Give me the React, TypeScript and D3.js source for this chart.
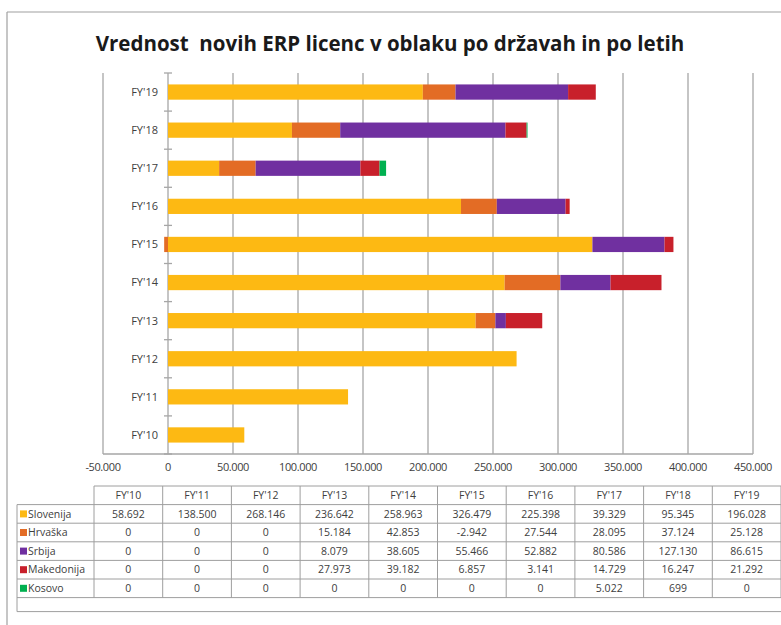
import React from "react";
import * as d3 from "d3";

const categories = ["FY'10", "FY'11", "FY'12", "FY'13", "FY'14", "FY'15", "FY'16", "FY'17", "FY'18", "FY'19"];
const seriesNames = ["Slovenija", "Hrvaška", "Srbija", "Makedonija", "Kosovo"];
const slovenija = [58692, 138500, 268146, 236642, 258963, 326479, 225398, 39329, 95345, 196028];
const hrvaska = [0, 0, 0, 15184, 42853, -2942, 27544, 28095, 37124, 25128];
const srbija = [0, 0, 0, 8079, 38605, 55466, 52882, 80586, 127130, 86615];
const makedonija = [0, 0, 0, 27973, 39182, 6857, 3141, 14729, 16247, 21292];
const kosovo = [0, 0, 0, 0, 0, 0, 0, 5022, 699, 0];
const seriesColors = ["#FDB913", "#E36C25", "#7030A0", "#C8202B", "#00B050"];
const xTicks = [-50000, 0, 50000, 100000, 150000, 200000, 250000, 300000, 350000, 400000, 450000];
const title = "Vrednost  novih ERP licenc v oblaku po državah in po letih";

const seriesValues = [slovenija, hrvaska, srbija, makedonija, kosovo];

const locale = d3.formatLocale({ thousands: ".", decimal: ",", grouping: [3], currency: ["", ""], minus: "-" });
const fmt = locale.format(",d");

const FONT = "'Open Sans', 'DejaVu Sans', sans-serif";

export default function App() {
  const W = 781, H = 625;
  const x = d3.scaleLinear().domain([-50000, 450000]).range([103, 753]);
  const y = d3.scaleBand<string>().domain([...categories].reverse()).range([73, 454]).paddingInner(0.6).paddingOuter(0.3);

  const rows = categories.map((c, i) => {
    const r: any = { cat: c };
    seriesNames.forEach((s, j) => (r[s] = seriesValues[j][i]));
    return r;
  });
  const stack = d3.stack<any>().keys(seriesNames).offset(d3.stackOffsetDiverging);
  const stacked = stack(rows);

  // table geometry
  const tLeft = 17, firstColW = 77;
  const colW = 68.7;
  const tTop = 486, rowH = 18.6;
  const colX = (i: number) => tLeft + firstColW + i * colW;
  const tRight = colX(categories.length);
  const nRows = seriesNames.length;
  const tableBottom = tTop + rowH * (nRows + 1);
  const extraBottom = tableBottom + 14;

  const gridColor = "#A6A6A6";
  const textColor = "#404040";
  const lineColor = "#9E9E9E";

  const step = y.step();
  const boundaries: number[] = [];
  for (let i = 0; i <= categories.length; i++) boundaries.push(73 + i * step);

  return (
    <svg width={W} height={H} style={{ position: "absolute", left: 0, top: 0, background: "#fff" }}>
      <rect x={0} y={0} width={W} height={H} fill="#fff" />
      {/* outer frame */}
      <line x1={7} x2={W} y1={12} y2={12} stroke="#A0A0A0" strokeWidth={1.2} />
      <line x1={7} x2={7} y1={12} y2={H} stroke="#A0A0A0" strokeWidth={1.2} />

      <text x={390} y={51} textAnchor="middle" fontFamily={FONT} fontWeight={700} fontSize={20.5} fill="#1a1a1a" style={{ whiteSpace: "pre" }}>
        {title}
      </text>

      {/* gridlines */}
      {xTicks.map((t) => (
        <line key={t} x1={x(t)} x2={x(t)} y1={73} y2={454} stroke={gridColor} strokeWidth={1.3} />
      ))}
      <line x1={x(-50000)} x2={x(450000)} y1={454} y2={454} stroke={gridColor} strokeWidth={1.3} />
      {boundaries.map((b, i) => (
        <line key={i} x1={x(0) - 4} x2={x(0) + 4} y1={b} y2={b} stroke={gridColor} strokeWidth={1.3} />
      ))}

      {/* bars */}
      {stacked.map((layer, j) => (
        <g key={layer.key} fill={seriesColors[j]}>
          {layer.map((d, i) => {
            const w = x(d[1]) - x(d[0]);
            if (Math.abs(w) < 0.01) return null;
            return (
              <rect key={i} x={Math.min(x(d[0]), x(d[1]))} y={y(categories[i])!} width={Math.abs(w)} height={y.bandwidth()} />
            );
          })}
        </g>
      ))}

      {/* category labels */}
      {categories.map((c) => (
        <text key={c} x={158} y={y(c)! + y.bandwidth() / 2} dy="0.35em" textAnchor="end" fontFamily={FONT} fontSize={11} fill={textColor}>
          {c}
        </text>
      ))}

      {/* x tick labels */}
      {xTicks.map((t) => (
        <text key={t} x={x(t)} y={471} textAnchor="middle" fontFamily={FONT} fontSize={11} fill={textColor} letterSpacing={-0.4}>
          {fmt(t)}
        </text>
      ))}

      {/* data table */}
      <g fontFamily={FONT} fontSize={10.5} fill={textColor}>
        <line x1={colX(0)} x2={tRight} y1={tTop} y2={tTop} stroke={lineColor} />
        {d3.range(1, nRows + 2).map((r) => (
          <line key={r} x1={tLeft} x2={tRight} y1={tTop + r * rowH} y2={tTop + r * rowH} stroke={lineColor} />
        ))}
        <line x1={tLeft} x2={tRight} y1={extraBottom} y2={extraBottom} stroke={lineColor} />
        <line x1={tLeft} x2={tLeft} y1={tTop + rowH} y2={extraBottom} stroke={lineColor} />
        {d3.range(0, categories.length + 1).map((i) => (
          <line key={i} x1={colX(i)} x2={colX(i)} y1={tTop} y2={tableBottom} stroke={lineColor} />
        ))}
        {categories.map((c, i) => (
          <text key={c} x={colX(i) + colW / 2} y={tTop + rowH / 2} dy="0.35em" textAnchor="middle">
            {c}
          </text>
        ))}
        {seriesNames.map((s, j) => {
          const cy = tTop + (j + 1) * rowH + rowH / 2;
          return (
            <g key={s}>
              <rect x={tLeft + 3} y={cy - 3.5} width={7} height={7} fill={seriesColors[j]} />
              <text x={tLeft + 11} y={cy} dy="0.35em">
                {s}
              </text>
              {seriesValues[j].map((v, i) => (
                <text key={i} x={colX(i) + colW / 2} y={cy} dy="0.35em" textAnchor="middle">
                  {fmt(v)}
                </text>
              ))}
            </g>
          );
        })}
      </g>
    </svg>
  );
}
